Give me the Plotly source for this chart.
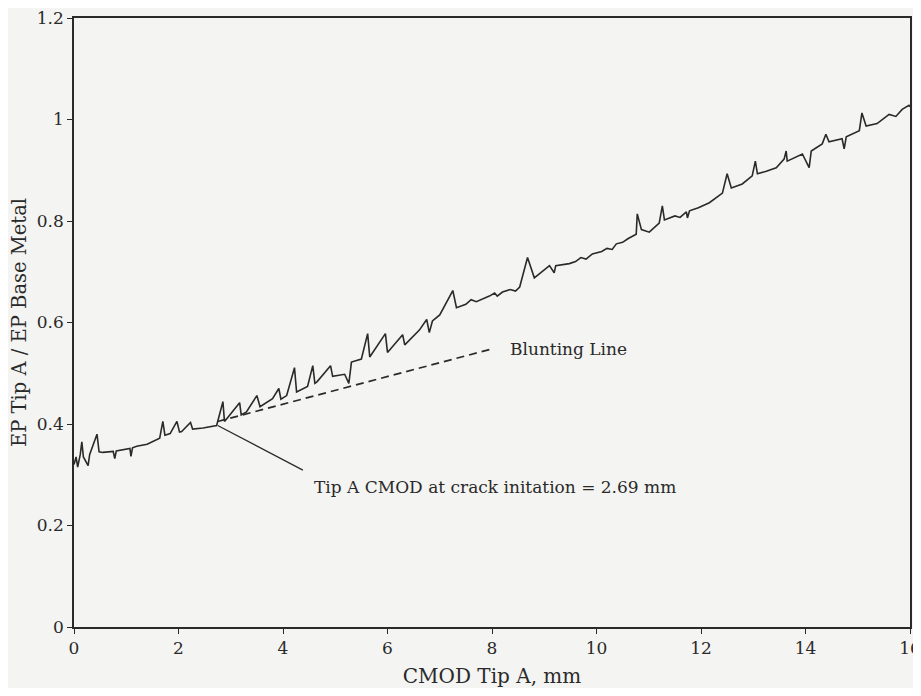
"""EP ratio vs CMOD (Tip A) with blunting line."""

import plotly.graph_objects as go

CMOD = [
    0.0, 0.04, 0.07, 0.12, 0.15, 0.18, 0.27, 0.3, 0.44, 0.48, 0.55, 0.75, 0.78, 0.81,
    1.07, 1.09, 1.12, 1.2, 1.4, 1.64, 1.70, 1.74, 1.84, 1.97, 2.02, 2.06, 2.23, 2.27,
    2.47, 2.73, 2.85, 2.88, 2.92, 3.17, 3.2, 3.3, 3.5, 3.56, 3.8, 3.92, 3.96, 4.07,
    4.22, 4.26, 4.47, 4.57, 4.61, 4.65, 4.91, 4.95, 5.18, 5.26, 5.31, 5.5, 5.62, 5.66,
    5.96, 6.0, 6.29, 6.33, 6.61, 6.75, 6.8, 6.86, 7.0, 7.25, 7.32, 7.5, 7.6, 7.7, 7.95,
    8.05, 8.1, 8.2, 8.35, 8.45, 8.53, 8.68, 8.81, 9.1, 9.19, 9.22, 9.48, 9.6, 9.7, 9.8,
    9.92, 10.1, 10.2, 10.3, 10.38, 10.5, 10.6, 10.7, 10.76, 10.78, 10.86,
    11.01, 11.2, 11.26, 11.3, 11.5, 11.6, 11.72, 11.74, 11.78, 11.95, 12.16, 12.41, 12.5,
    12.58, 12.79, 12.98, 13.04, 13.08, 13.25, 13.44, 13.59, 13.63, 13.65, 13.94, 14.07,
    14.11, 14.32, 14.39, 14.45, 14.7, 14.74, 14.78, 15.03, 15.08, 15.16, 15.37, 15.6,
    15.73, 15.85, 15.98, 16.0,
]
EP_RATIO = [
    0.32, 0.335, 0.315, 0.34, 0.365, 0.335, 0.318, 0.34, 0.38, 0.345, 0.344, 0.346, 0.332, 0.347,
    0.352, 0.336, 0.353, 0.356, 0.36, 0.372, 0.405, 0.378, 0.381, 0.405, 0.384, 0.385, 0.403, 0.39,
    0.392, 0.397, 0.444, 0.405, 0.41, 0.442, 0.418, 0.424, 0.456, 0.434, 0.45, 0.47, 0.449, 0.456,
    0.511, 0.463, 0.474, 0.515, 0.48, 0.483, 0.515, 0.494, 0.498, 0.48, 0.522, 0.528, 0.578, 0.532,
    0.578, 0.541, 0.576, 0.556, 0.585, 0.606, 0.58, 0.603, 0.615, 0.663, 0.629, 0.636, 0.645, 0.641,
    0.652, 0.658, 0.652, 0.66, 0.665, 0.662, 0.67, 0.728, 0.688, 0.712, 0.698, 0.712, 0.716, 0.72,
    0.728, 0.725, 0.735, 0.74, 0.746, 0.744, 0.755, 0.758, 0.765, 0.77, 0.774, 0.814, 0.783,
    0.778, 0.796, 0.83, 0.802, 0.81, 0.807, 0.818, 0.806, 0.82, 0.826, 0.836, 0.855, 0.893,
    0.865, 0.873, 0.889, 0.918, 0.893, 0.898, 0.905, 0.922, 0.938, 0.918, 0.932, 0.905,
    0.938, 0.952, 0.971, 0.956, 0.962, 0.942, 0.966, 0.978, 1.013, 0.987, 0.992, 1.01,
    1.006, 1.02, 1.028, 1.025,
]

BLUNT_X = [2.75, 8.0]
BLUNT_Y = [0.405, 0.548]

LEADER_X = [2.75, 4.38]
LEADER_Y = [0.397, 0.309]

X_TICKS = [0, 2, 4, 6, 8, 10, 12, 14, 16]
Y_TICKS = [0, 0.2, 0.4, 0.6, 0.8, 1, 1.2]
Y_TICK_TEXT = ["0", "0.2", "0.4", "0.6", "0.8", "1", "1.2"]

INK = "#2a2a2a"
PAPER = "#f4f4f2"
FONT = "DejaVu Serif"

fig = go.Figure()
fig.add_trace(go.Scatter(x=CMOD, y=EP_RATIO, mode="lines",
                         line=dict(color=INK, width=1.6), showlegend=False))
fig.add_trace(go.Scatter(x=BLUNT_X, y=BLUNT_Y, mode="lines",
                         line=dict(color=INK, width=1.7, dash="8px,5px"), showlegend=False))
fig.add_trace(go.Scatter(x=LEADER_X, y=LEADER_Y, mode="lines",
                         line=dict(color=INK, width=1.3), showlegend=False))

fig.add_annotation(x=8.3, y=0.548, text="Blunting Line", showarrow=False,
                   xanchor="left", yanchor="middle", font=dict(size=17, color=INK, family=FONT))
fig.add_annotation(x=4.55, y=0.275, text="Tip A CMOD at crack initation = 2.69 mm",
                   showarrow=False, xanchor="left", yanchor="middle",
                   font=dict(size=17, color=INK, family=FONT))

axis_style = dict(showgrid=False, zeroline=False, showline=True, linecolor=INK, linewidth=1.6,
                  mirror=True, ticks="outside", ticklen=5, tickcolor=INK, tickwidth=1.3,
                  automargin=False, ticklabeloverflow="allow",
                  tickfont=dict(size=17, color=INK, family=FONT))

fig.update_xaxes(range=[0, 16], tickvals=X_TICKS, title=dict(text="CMOD Tip A, mm", standoff=13,
                 font=dict(size=20, color=INK, family=FONT)), **axis_style)
fig.update_yaxes(range=[0, 1.2], tickvals=Y_TICKS, ticktext=Y_TICK_TEXT,
                 title=dict(text="EP Tip A / EP Base Metal", standoff=5,
                            font=dict(size=19.5, color=INK, family=FONT)), **axis_style)

# the page body adds an 8px offset; size the figure so the page needs no scrollbars
fig.update_layout(
    width=913, height=680,
    margin=dict(l=66, r=11, t=10, b=61),
    paper_bgcolor=PAPER, plot_bgcolor=PAPER,
    font=dict(family=FONT, color=INK),
)

fig.write_html("out.html")
